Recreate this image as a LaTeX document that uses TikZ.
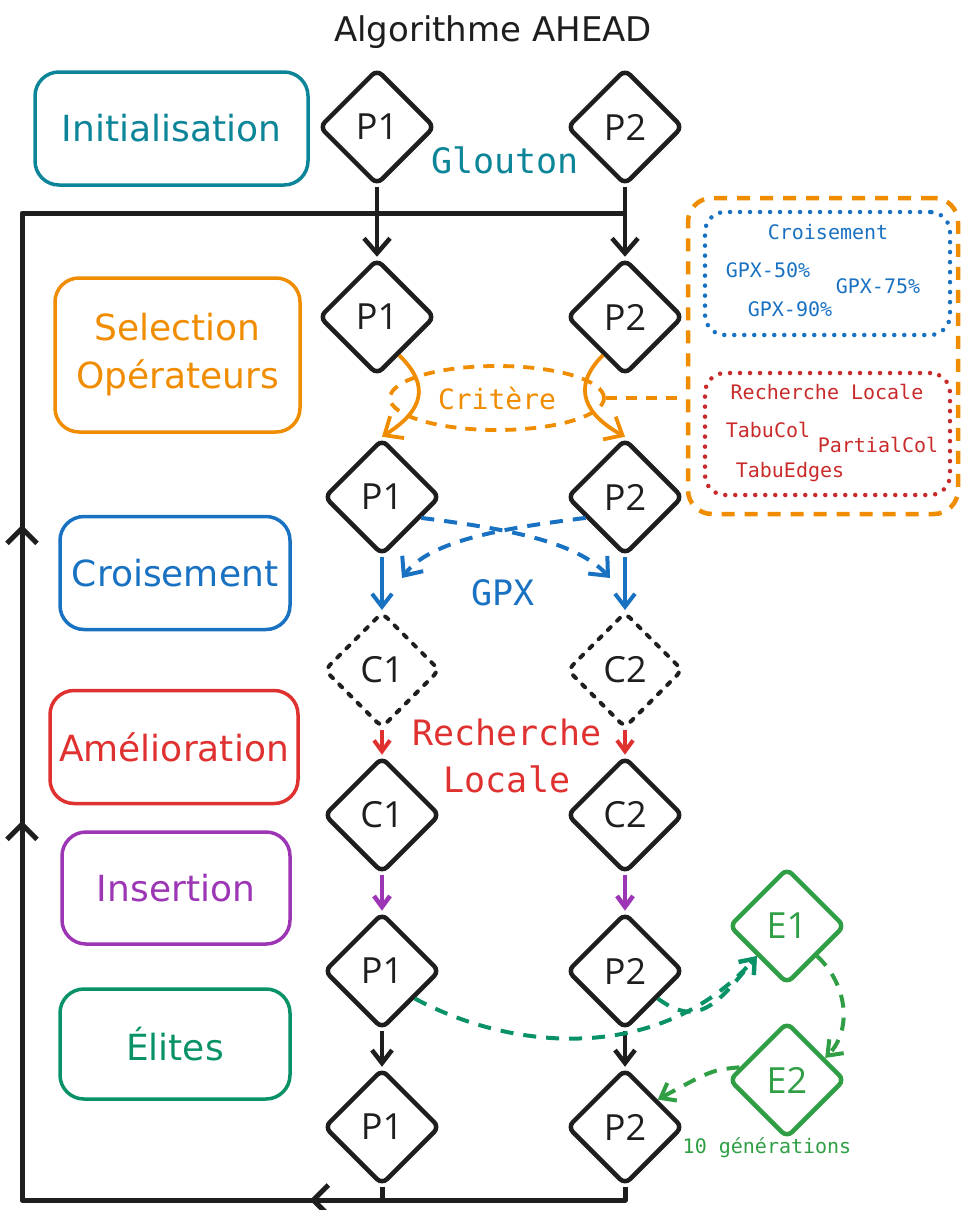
\documentclass[tikz,border=0pt]{standalone}
\usepackage{fontspec}
\setmainfont{DejaVu Sans}
\newfontfamily\chand{DejaVu Sans}
\newfontfamily\cmono{DejaVu Sans Mono}
\newfontfamily\cnode{Open Sans}
\usetikzlibrary{shapes.geometric,arrows.meta,decorations.markings}
\definecolor{ink}{HTML}{1E1E1E}
\definecolor{cteal}{HTML}{0C8599}
\definecolor{corange}{HTML}{F08C00}
\definecolor{cblue}{HTML}{1971C2}
\definecolor{cred}{HTML}{E03131}
\definecolor{cdred}{HTML}{C92A2A}
\definecolor{cviolet}{HTML}{9C36B5}
\definecolor{cegreen}{HTML}{099268}
\definecolor{cgreen}{HTML}{2F9E44}
\begin{document}
\begin{tikzpicture}[x=1pt,y=-1pt,
  dia/.style={diamond, draw=ink, line width=4.5pt, minimum width=116pt, minimum height=116pt,
    inner sep=0pt, rounded corners=7pt, text=ink, font=\cnode\fontsize{36}{38}\selectfont},
  cdia/.style={dia, line width=4pt, dash pattern=on 4pt off 9pt, line cap=round},
  edia/.style={dia, draw=cgreen, text=cgreen},
  lbox/.style={draw, rounded corners=24pt, line width=3.5pt, align=center, inner sep=0pt,
    font=\chand\fontsize{36}{48}\selectfont},
  arr/.style={-{Straight Barb[length=15pt,width=26pt]}},
  marr/.style={-{Straight Barb[length=13pt,width=20pt]}},
  sarr/.style={-{Straight Barb[length=11pt,width=16pt]}},
  dsh/.style={dash pattern=on 13pt off 10pt},
  dotline/.style={dash pattern=on 0pt off 10pt, line cap=round},
  mtxt/.style={font=\cmono\fontsize{20}{24}\selectfont},
  btxt/.style={font=\cmono\fontsize{35}{47}\selectfont, align=center},
  loopline/.style={draw=ink, line width=5pt, postaction={decorate},
    decoration={markings,
      mark=at position 328pt with {\arrow{Straight Barb[length=15pt,width=30pt]}},
      mark=at position 995pt with {\arrow{Straight Barb[length=15pt,width=30pt]}},
      mark=at position 1291pt with {\arrow{Straight Barb[length=15pt,width=30pt]}}}}
]
\useasboundingbox (0,0) rectangle (962,1210);

% title
\node[font=\chand\fontsize{34}{40}\selectfont, text=ink] (title) at (493,32) {Algorithme AHEAD};

% left boxes
\node[lbox, draw=cteal, text=cteal, minimum width=273pt, minimum height=113pt] (binit) at (171.5,128.5) {Initialisation};
\node[lbox, draw=corange, text=corange, minimum width=245pt, minimum height=154pt] (bsel) at (177.5,355) {Selection\\Opérateurs};
\node[lbox, draw=cblue, text=cblue, minimum width=230pt, minimum height=113pt] (bcro) at (175,573) {Croisement};
\node[lbox, draw=cred, text=cred, minimum width=248pt, minimum height=113pt] (bame) at (174,747) {Amélioration};
\node[lbox, draw=cviolet, text=cviolet, minimum width=228pt, minimum height=112pt] (bins) at (176,888) {Insertion};
\node[lbox, draw=cegreen, text=cegreen, minimum width=230pt, minimum height=110pt] (beli) at (175,1044) {Élites};

% diamonds
\node[dia] (a0) at (377,127) {P1};
\node[dia] (b0) at (625,127) {P2};
\node[dia] (a1) at (377,317) {P1};
\node[dia] (b1) at (625,317) {P2};
\node[dia] (a2) at (382,497) {P1};
\node[dia] (b2) at (625,497) {P2};
\node[cdia] (a3) at (382,670) {C1};
\node[cdia] (b3) at (625,670) {C2};
\node[dia] (a4) at (382,815) {C1};
\node[dia] (b4) at (625,815) {C2};
\node[dia] (a5) at (382,971) {P1};
\node[dia] (b5) at (625,971) {P2};
\node[dia] (a6) at (382,1127) {P1};
\node[dia] (b6) at (625,1127) {P2};
\node[edia] (e1) at (787,926) {E1};
\node[edia] (e2) at (787,1080) {E2};

% middle labels
\node[btxt, text=cteal] (glouton) at (505,160) {Glouton};
\node[btxt, text=cblue] (gpx) at (503,593) {GPX};
\node[btxt, text=cred] (rl) at (507,756) {Recherche\\Locale};
\node[mtxt, text=cgreen] (gen) at (767,1148) {10 générations};

% operator panel
\node[draw=corange, line width=4.5pt, dsh, rounded corners=24pt, minimum width=270pt, minimum height=316pt] (obox) at (823,356) {};
\node[draw=cblue, line width=4.5pt, dotline, rounded corners=20pt, minimum width=245pt, minimum height=123pt] (xbox) at (827.5,273.5) {};
\node[draw=cdred, line width=4.5pt, dotline, rounded corners=20pt, minimum width=245pt, minimum height=122pt] (lbx) at (827.5,434) {};
\node[mtxt, text=cblue] (tcro) at (828,232) {Croisement};
\node[mtxt, text=cblue] (g50) at (768,270) {GPX-50\%};
\node[mtxt, text=cblue] (g75) at (878,286) {GPX-75\%};
\node[mtxt, text=cblue] (g90) at (790,309) {GPX-90\%};
\node[mtxt, text=cdred] (trl) at (827,392) {Recherche Locale};
\node[mtxt, text=cdred] (tabu) at (768,430) {TabuCol};
\node[mtxt, text=cdred] (part) at (878,445) {PartialCol};
\node[mtxt, text=cdred] (tedg) at (790,472) {TabuEdges};

% criterion ellipse
\node[ellipse, draw=corange, line width=3.8pt, dash pattern=on 11pt off 9pt, minimum width=214pt, minimum height=64pt,
  inner sep=0pt, text=corange, font=\cmono\fontsize{28}{30}\selectfont] (crit) at (497,398) {Critère};
\draw[corange, line width=3.8pt, dash pattern=on 11pt off 9pt] (crit.east) -- (crit.east -| obox.west);

% loop
\coordinate (br) at (625,1200);
\coordinate (bl) at (22,1200);
\coordinate (tl) at (22,213);
\coordinate (tr) at (625,213);
\coordinate (bm) at (382,1200);
\path[loopline, line join=round] (b6.south) -- (br) -- (bl) -- (tl) -- (tr);
\draw[ink, line width=5pt] (a6.south) -- (bm);

% black arrows
\draw[ink, line width=4.5pt, arr] (a0.south) -- (a1.north);
\draw[ink, line width=4.5pt, arr] (b0.south) -- (b1.north);
\draw[ink, line width=4.5pt, marr] (a5.south) -- (a6.north);
\draw[ink, line width=4.5pt, marr] (b5.south) -- (b6.north);

% orange selection arrows
\draw[corange, line width=3.8pt, arr] (a1.-60) .. controls (430,385) and (424,410) .. (a2.north);
\draw[corange, line width=3.8pt, arr] (b1.-120) .. controls (570,388) and (586,415) .. (b2.north);

% blue
\draw[cblue, line width=4pt, marr] (a2.south) -- (a3.north);
\draw[cblue, line width=4pt, marr] (b2.south) -- (b3.north);
\coordinate (gx1) at (402,578);
\coordinate (gx2) at (610,578);
\draw[cblue, line width=4pt, dsh, arr] (a2.-28) .. controls (500,528) and (575,540) .. (gx2);
\draw[cblue, line width=4pt, dsh, arr] (b2.-152) .. controls (505,528) and (430,540) .. (gx1);

% red
\draw[cred, line width=4pt, sarr] (a3.south) -- (a4.north);
\draw[cred, line width=4pt, sarr] (b3.south) -- (b4.north);

% violet
\draw[cviolet, line width=4.5pt, sarr] (a4.south) -- (a5.north);
\draw[cviolet, line width=4.5pt, sarr] (b4.south) -- (b5.north);

% elites
\draw[cegreen, line width=4pt, dsh, marr] (a5.-40) .. controls (520,1055) and (665,1060) .. (e1.-135);
\draw[cegreen, line width=4pt, dsh, marr] (b5.-40) .. controls (700,1030) and (720,1000) .. (e1.-135);
\draw[cgreen, line width=4pt, dsh, marr] (e1.-45) .. controls (848,985) and (852,1030) .. (e2.30);
\draw[cgreen, line width=4pt, dsh, marr] (e2.165) .. controls (712,1070) .. (b6.40);
\end{tikzpicture}
\end{document}
